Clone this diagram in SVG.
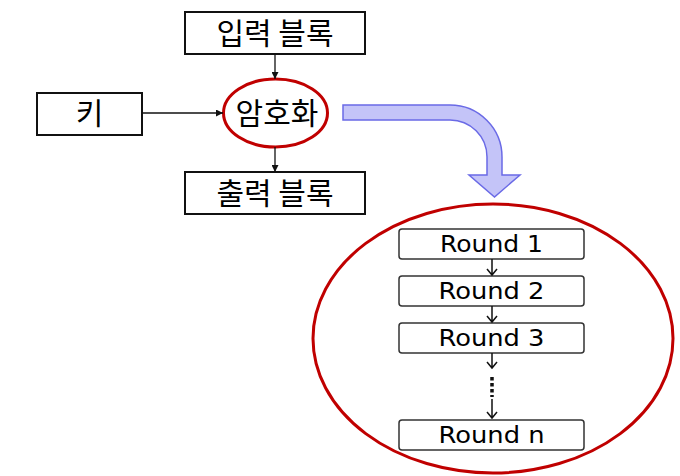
<svg xmlns="http://www.w3.org/2000/svg" width="680" height="476" viewBox="0 0 680 476">
<defs>
<style>
.box{fill:#fff;stroke:#111;stroke-width:2}
.rbox{fill:#fff;stroke:#333;stroke-width:1.5}
.red{fill:none;stroke:#c00000;stroke-width:3}
.kr{font-family:"Noto Sans CJK KR","Noto Sans",sans-serif;font-size:30px;font-weight:400;fill:#000;text-anchor:middle}
.rt{font-family:"DejaVu Sans","Noto Sans",sans-serif;font-size:23px;fill:#000;text-anchor:middle}
.ln{stroke:#111;stroke-width:1.3;fill:none}
.v{stroke:#111;stroke-width:1.5;fill:none}
</style>
<marker id="tri" viewBox="0 0 10 10" refX="10" refY="5" markerWidth="7" markerHeight="7" markerUnits="userSpaceOnUse" orient="auto">
<path d="M0,0 L10,5 L0,10 Z" fill="#111"/>
</marker>
</defs>
<rect width="680" height="476" fill="#fff"/>

<g id="input-block">
<rect class="box" x="185" y="12" width="180" height="42"/>
<text class="kr" x="275" y="44">입력 블록</text>
</g>
<g id="key">
<rect class="box" x="37" y="93" width="105" height="42"/>
<text class="kr" x="89.5" y="124">키</text>
</g>
<g id="encrypt">
<ellipse class="red" cx="275.5" cy="113" rx="52" ry="34"/>
<text class="kr" x="277" y="124">암호화</text>
</g>
<g id="output-block">
<rect class="box" x="185" y="172" width="180" height="42"/>
<text class="kr" x="275" y="204">출력 블록</text>
</g>

<g id="big-arrow">
<path d="M343,105 H450 A52,52 0 0 1 502,157 V175 H520 L494.5,197 L469,175 H487 V157 A37,37 0 0 0 450,120 H343 Z" fill="#c4c4f8" stroke="#6a6ae6" stroke-width="1.5"/>
</g>

<g id="rounds">
<ellipse class="red" cx="493" cy="338.5" rx="180" ry="134.5"/>
</g>
<g id="round1">
<rect class="rbox" x="399" y="229" width="185" height="30" rx="3"/>
<text class="rt" x="491.5" y="252" textLength="103" lengthAdjust="spacingAndGlyphs">Round 1</text>
</g>
<g id="round2">
<rect class="rbox" x="399" y="276" width="185" height="30" rx="3"/>
<text class="rt" x="491.5" y="299" textLength="106" lengthAdjust="spacingAndGlyphs">Round 2</text>
</g>
<g id="round3">
<rect class="rbox" x="399" y="323" width="185" height="30" rx="3"/>
<text class="rt" x="491.5" y="346" textLength="106" lengthAdjust="spacingAndGlyphs">Round 3</text>
</g>
<g id="roundn">
<rect class="rbox" x="399" y="420" width="185" height="30" rx="3"/>
<text class="rt" x="491.5" y="443" textLength="106" lengthAdjust="spacingAndGlyphs">Round n</text>
</g>

<g id="connectors">
<line class="ln" x1="275" y1="54" x2="275" y2="79" marker-end="url(#tri)"/>
<line class="ln" x1="142" y1="113" x2="223" y2="113" marker-end="url(#tri)"/>
<line class="ln" x1="275" y1="147" x2="275" y2="172" marker-end="url(#tri)"/>
<path class="v" d="M492,259 V275 M487,269 L492,275 L497,269"/>
<path class="v" d="M492,306 V322 M487,316 L492,322 L497,316"/>
<path class="v" d="M492,353 V368 M487,362 L492,368 L497,362"/>
<path d="M492,377 V397" stroke="#111" stroke-width="3.5" stroke-dasharray="3.5,2.5" fill="none"/>
<path class="v" d="M492,399 V418 M487,412 L492,418 L497,412"/>
</g>
</svg>
